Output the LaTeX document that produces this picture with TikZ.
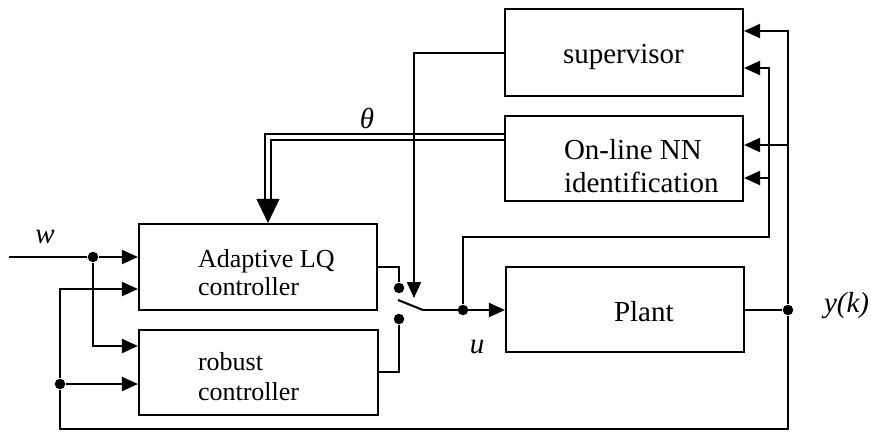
\documentclass[tikz,border=0pt]{standalone}
\usepackage{fontspec}
\setmainfont{Liberation Serif}
\usetikzlibrary{arrows.meta,calc}

\begin{document}
\begin{tikzpicture}[x=1bp,y=-1bp,
  line width=2.1bp,
  blk/.style={draw, rectangle, inner sep=0pt},
  big/.style={font=\fontsize{29bp}{33bp}\selectfont},
  small/.style={font=\fontsize{26bp}{30bp}\selectfont},
  lbl/.style={inner sep=0pt, anchor=base west},
  sig/.style={inner sep=0pt, anchor=base, font=\fontsize{29bp}{33bp}\selectfont\itshape},
  arr/.style={-{Triangle[length=16bp,width=14bp]}},
  bigarr/.style={line width=0.4bp, -{Triangle[length=24bp,width=23bp]}},
  dbl/.style={double, double distance=4bp, line width=2bp},
  dot/.style={circle, fill, inner sep=0pt, minimum size=10.5bp}]

\useasboundingbox (0,0) rectangle (871,432);

% blocks
\node[blk, minimum width=238bp, minimum height=87bp] (sup)    at (624,52.5)  {};
\node[blk, minimum width=238bp, minimum height=85bp] (nn)     at (624,158.5) {};
\node[blk, minimum width=238bp, minimum height=85bp] (plant)  at (625,309.5) {};
\node[blk, minimum width=238bp, minimum height=86bp] (adapt)  at (258,267)   {};
\node[blk, minimum width=239bp, minimum height=85bp] (robust) at (258.5,372.5) {};

% block texts
\node[lbl, big]   (tsup)   at (562,63)  {supervisor};
\node[lbl, big]   (tnn1)   at (563,159) {On-line NN};
\node[lbl, big]   (tnn2)   at (563,192) {identification};
\node[lbl, big]   (tplant) at (613,321) {Plant};
\node[lbl, small] (tad1)   at (197,267) {Adaptive LQ};
\node[lbl, small] (tad2)   at (197,295) {controller};
\node[lbl, small] (trb1)   at (197,370) {robust};
\node[lbl, small] (trb2)   at (197,400) {controller};

% signal labels
\node[sig] (lw)  at (45,243)  {w};
\node[sig] (lu)  at (477,353) {u};
\node[sig, anchor=base west] (ly) at (823,312) {y(k)};
\node[sig] (lth) at (367,128) {θ};

% junctions and switch contacts
\node[dot] (wj) at (93,257) {};
\node[dot] (fbj) at (60,384) {};
\node[dot] (yj) at (788,310) {};
\node[dot] (uj) at (463,310) {};
\node[dot] (s1) at (399,288) {};
\node[dot] (s2) at (399,319) {};

\coordinate (wstart) at (9,257);
\coordinate (ytop) at (788,31);
\coordinate (ynn) at (788,145);
\coordinate (ybot) at (788,429);
\coordinate (ucorner) at (769,237);
\coordinate (utop) at (769,68);
\coordinate (unn) at (769,178);
\coordinate (bladestart) at (398,300);
\coordinate (bladeend) at (423,310);
\coordinate (swtip) at (414,298);
\coordinate (thcorner) at (268,137);
\coordinate (thend) at (268,200);

% reference input w
\draw (wstart) -- (wj);
\draw[arr] (wj) -- (adapt.west |- wj);
\draw[arr] (wj) |- (robust.west |- 0,346);

% output y(k) and its feedback paths
\draw (plant.east |- yj) -- (yj);
\draw[arr] (yj) -- (ytop) -- (sup.east |- ytop);
\draw[arr] (ynn) -- (nn.east |- ynn);
\draw (yj) -- (ybot) -| (fbj);
\draw[arr] (fbj) |- (adapt.west |- 0,289);
\draw[arr] (fbj) -- (robust.west |- fbj);

% controller outputs to the switch
\draw (adapt.east |- 0,267) -| (s1);
\draw (robust.east |- 0,372) -| (s2);
\draw (bladestart) -- (bladeend);

% control signal u
\draw[arr] (bladeend) -- (plant.west |- bladeend);
\draw[arr] (uj) |- (ucorner) -- (utop) -- (sup.east |- utop);
\draw[arr] (unn) -- (nn.east |- unn);

% identified parameters theta
\draw[dbl] (nn.west |- thcorner) -- (thcorner) -- (thend);
\draw[bigarr] (thend) -- (adapt.north -| thend);

% supervisor commands the switch
\draw[arr] (sup.west |- 0,53) -| (swtip);

\end{tikzpicture}
\end{document}
